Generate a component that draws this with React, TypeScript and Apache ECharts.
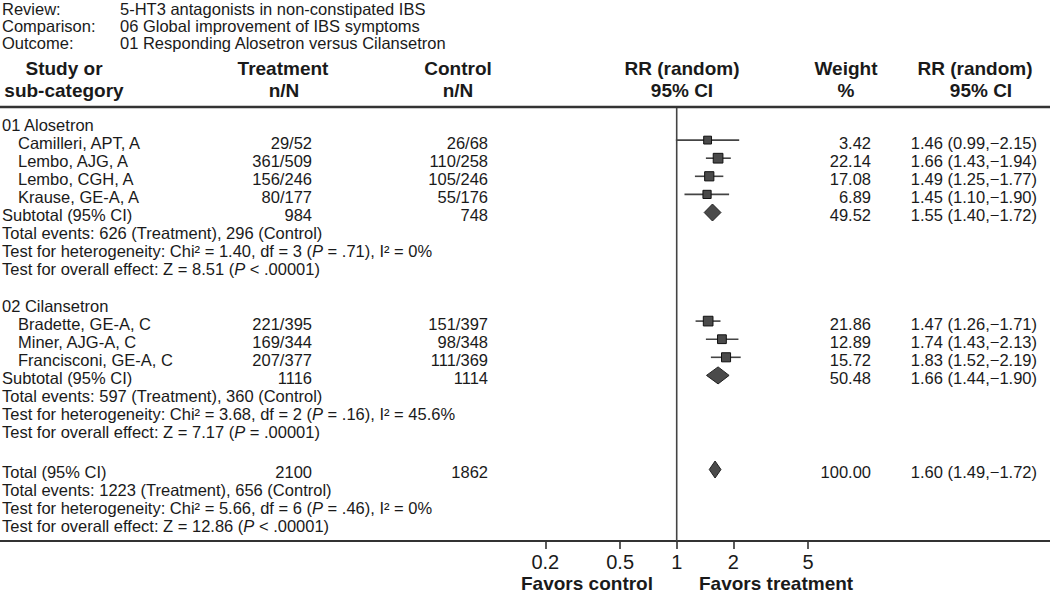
import React, { useEffect, useRef } from "react";
import * as echarts from "echarts";

// ---------- DATA ----------
const reviewTitle = "5-HT3 antagonists in non-constipated IBS";
const comparisonTitle = "06 Global improvement of IBS symptoms";
const outcomeTitle = "01 Responding Alosetron versus Cilansetron";

const group1Name = "01 Alosetron";
const group1Studies = ["Camilleri, APT, A", "Lembo, AJG, A", "Lembo, CGH, A", "Krause, GE-A, A"];
const group1TreatEvents = [29, 361, 156, 80];
const group1TreatN = [52, 509, 246, 177];
const group1CtrlEvents = [26, 110, 105, 55];
const group1CtrlN = [68, 258, 246, 176];
const group1Weight = [3.42, 22.14, 17.08, 6.89];
const group1RR = [1.46, 1.66, 1.49, 1.45];
const group1Low = [0.99, 1.43, 1.25, 1.1];
const group1High = [2.15, 1.94, 1.77, 1.9];
const group1Subtotal = { rr: 1.55, lo: 1.4, hi: 1.72, weight: 49.52 };
const group1Het = ["1.40", "3", ".71", "0%"];
const group1Overall = ["8.51", "<", ".00001"];

const group2Name = "02 Cilansetron";
const group2Studies = ["Bradette, GE-A, C", "Miner, AJG-A, C", "Francisconi, GE-A, C"];
const group2TreatEvents = [221, 169, 207];
const group2TreatN = [395, 344, 377];
const group2CtrlEvents = [151, 98, 111];
const group2CtrlN = [397, 348, 369];
const group2Weight = [21.86, 12.89, 15.72];
const group2RR = [1.47, 1.74, 1.83];
const group2Low = [1.26, 1.43, 1.52];
const group2High = [1.71, 2.13, 2.19];
const group2Subtotal = { rr: 1.66, lo: 1.44, hi: 1.9, weight: 50.48 };
const group2Het = ["3.68", "2", ".16", "45.6%"];
const group2Overall = ["7.17", "=", ".00001"];

const overall = { rr: 1.6, lo: 1.49, hi: 1.72, weight: 100.0 };
const overallHet = ["5.66", "6", ".46", "0%"];
const overallZ = ["12.86", "<", ".00001"];

const axisTicks = [0.2, 0.5, 1, 2, 5];

// ---------- LAYOUT ----------
const W = 1050;
const H = 593;
const FONT = '"Liberation Sans", Arial, Helvetica, sans-serif';
const TXT = "#1a1a1a";
const BODY = 16.5;
const ONE_X = 676.7; // pixel of RR = 1
const PX_PER_DECADE = 188;
const AXIS_Y = 541;
const ROW_TOP = 124.5;
const ROW_H = 18.1;
const MARK_OFF = -2.5;
const rowY = (r: number) => ROW_TOP + ROW_H * r;

const X_NAME = 2;
const X_STUDY = 18;
const X_TREAT = 312;
const X_CTRL = 488;
const X_WEIGHT = 871;
const X_CI = 1037;

const sum = (a: number[]) => a.reduce((s, v) => s + v, 0);
const ciText = (rr: number, lo: number, hi: number) =>
  `${rr.toFixed(2)} (${lo.toFixed(2)},\u2212${hi.toFixed(2)})`;

function txt(x: number, y: number, text: string, opt: any = {}) {
  return {
    type: "text",
    x,
    y,
    silent: true,
    style: {
      text,
      fontSize: opt.fontSize ?? BODY,
      fontFamily: FONT,
      fontWeight: opt.bold ? "bold" : "normal",
      fill: TXT,
      align: opt.align ?? "left",
      verticalAlign: "middle",
      rich: opt.rich,
    },
  };
}

const richP = {
  i: { fontStyle: "italic", fontSize: BODY, fontFamily: FONT, fill: TXT },
  n: { fontSize: BODY, fontFamily: FONT, fill: TXT },
};
const hetText = (h: string[]) =>
  `{n|Test for heterogeneity: Chi\u00B2 = ${h[0]}, df = ${h[1]} (}{i|P}{n| = ${h[2]}), I\u00B2 = ${h[3]}}`;
const zText = (z: string[]) =>
  `{n|Test for overall effect: Z = ${z[0]} (}{i|P}{n| ${z[1]} ${z[2]})}`;

function buildGraphics() {
  const g: any[] = [];
  const titles = [
    ["Review:", reviewTitle],
    ["Comparison:", comparisonTitle],
    ["Outcome:", outcomeTitle],
  ];
  titles.forEach((t, i) => {
    g.push(txt(2, 8.5 + 17 * i, t[0]));
    g.push(txt(120, 8.5 + 17 * i, t[1]));
  });
  const hb = { bold: true, fontSize: 19, align: "center" };
  g.push(txt(64, 68, "Study or", hb));
  g.push(txt(64, 90, "sub-category", hb));
  g.push(txt(283, 68, "Treatment", hb));
  g.push(txt(284, 90, "n/N", hb));
  g.push(txt(458, 68, "Control", hb));
  g.push(txt(458, 90, "n/N", hb));
  g.push(txt(682, 68, "RR (random)", hb));
  g.push(txt(682, 90, "95% CI", hb));
  g.push(txt(846, 68, "Weight", hb));
  g.push(txt(846, 90, "%", hb));
  g.push(txt(975, 68, "RR (random)", hb));
  g.push(txt(981, 90, "95% CI", hb));
  g.push({
    type: "rect",
    silent: true,
    shape: { x: 0, y: 105.8, width: W, height: 2.5 },
    style: { fill: "#333" },
  });

  const groupBlock = (
    start: number,
    name: string,
    studies: string[],
    te: number[],
    tn: number[],
    ce: number[],
    cn: number[],
    w: number[],
    rr: number[],
    lo: number[],
    hi: number[],
    sub: any,
    het: string[],
    z: string[]
  ) => {
    g.push(txt(X_NAME, rowY(start), name));
    studies.forEach((s, i) => {
      const y = rowY(start + 1 + i);
      g.push(txt(X_STUDY, y, s));
      g.push(txt(X_TREAT, y, `${te[i]}/${tn[i]}`, { align: "right" }));
      g.push(txt(X_CTRL, y, `${ce[i]}/${cn[i]}`, { align: "right" }));
      g.push(txt(X_WEIGHT, y, w[i].toFixed(2), { align: "right" }));
      g.push(txt(X_CI, y, ciText(rr[i], lo[i], hi[i]), { align: "right" }));
    });
    const ys = rowY(start + 1 + studies.length);
    g.push(txt(X_NAME, ys, "Subtotal (95% CI)"));
    g.push(txt(X_TREAT, ys, String(sum(tn)), { align: "right" }));
    g.push(txt(X_CTRL, ys, String(sum(cn)), { align: "right" }));
    g.push(txt(X_WEIGHT, ys, sub.weight.toFixed(2), { align: "right" }));
    g.push(txt(X_CI, ys, ciText(sub.rr, sub.lo, sub.hi), { align: "right" }));
    g.push(
      txt(X_NAME, rowY(start + 2 + studies.length), `Total events: ${sum(te)} (Treatment), ${sum(ce)} (Control)`)
    );
    g.push(txt(X_NAME, rowY(start + 3 + studies.length), hetText(het), { rich: richP }));
    g.push(txt(X_NAME, rowY(start + 4 + studies.length), zText(z), { rich: richP }));
  };

  groupBlock(0, group1Name, group1Studies, group1TreatEvents, group1TreatN, group1CtrlEvents, group1CtrlN,
    group1Weight, group1RR, group1Low, group1High, group1Subtotal, group1Het, group1Overall);
  groupBlock(10, group2Name, group2Studies, group2TreatEvents, group2TreatN, group2CtrlEvents, group2CtrlN,
    group2Weight, group2RR, group2Low, group2High, group2Subtotal, group2Het, group2Overall);

  const tr = 19.2;
  const yt = rowY(tr);
  g.push(txt(X_NAME, yt, "Total (95% CI)"));
  g.push(txt(X_TREAT, yt, String(sum(group1TreatN) + sum(group2TreatN)), { align: "right" }));
  g.push(txt(X_CTRL, yt, String(sum(group1CtrlN) + sum(group2CtrlN)), { align: "right" }));
  g.push(txt(X_WEIGHT, yt, overall.weight.toFixed(2), { align: "right" }));
  g.push(txt(X_CI, yt, ciText(overall.rr, overall.lo, overall.hi), { align: "right" }));
  g.push(
    txt(
      X_NAME,
      rowY(tr + 1),
      `Total events: ${sum(group1TreatEvents) + sum(group2TreatEvents)} (Treatment), ${
        sum(group1CtrlEvents) + sum(group2CtrlEvents)
      } (Control)`
    )
  );
  g.push(txt(X_NAME, rowY(tr + 2), hetText(overallHet), { rich: richP }));
  g.push(txt(X_NAME, rowY(tr + 3), zText(overallZ), { rich: richP }));

  g.push(txt(653, 583, "Favors control", { bold: true, fontSize: 19, align: "right" }));
  g.push(txt(699, 583, "Favors treatment", { bold: true, fontSize: 19, align: "left" }));
  return g;
}

// ---------- CHART ----------
export default function App() {
  const ref = useRef<HTMLDivElement>(null);
  useEffect(() => {
    if (!ref.current) return;
    const chart = echarts.init(ref.current, null, { renderer: "svg" });

    const studyData: number[][] = [];
    group1RR.forEach((v, i) =>
      studyData.push([v, group1Low[i], group1High[i], group1Weight[i], rowY(1 + i) + MARK_OFF])
    );
    group2RR.forEach((v, i) =>
      studyData.push([v, group2Low[i], group2High[i], group2Weight[i], rowY(11 + i) + MARK_OFF])
    );
    const diamondData = [
      [group1Subtotal.rr, group1Subtotal.lo, group1Subtotal.hi, rowY(5) + MARK_OFF],
      [group2Subtotal.rr, group2Subtotal.lo, group2Subtotal.hi, rowY(14) + MARK_OFF],
      [overall.rr, overall.lo, overall.hi, rowY(19.2) + MARK_OFF],
    ];

    const minX = Math.pow(10, -ONE_X / PX_PER_DECADE);
    const maxX = Math.pow(10, (W - ONE_X) / PX_PER_DECADE);

    chart.setOption({
      animation: false,
      backgroundColor: "#ffffff",
      grid: { left: 0, right: 0, top: 0, bottom: 0, containLabel: false, outerBoundsMode: "none" },
      xAxis: {
        type: "log",
        logBase: 10,
        min: minX,
        max: maxX,
        position: "bottom",
        offset: -(H - AXIS_Y),
        axisLine: { show: true, onZero: false, lineStyle: { color: "#333", width: 2 } },
        axisTick: { show: false },
        axisLabel: { show: false },
        splitLine: { show: false },
      },
      yAxis: {
        type: "value",
        min: 0,
        max: H,
        inverse: true,
        show: false,
        splitLine: { show: false },
      },
      graphic: buildGraphics(),
      series: [
        {
          type: "line",
          data: [
            [1, 108],
            [1, AXIS_Y],
          ],
          symbol: "none",
          silent: true,
          lineStyle: { color: "#444", width: 1.6 },
        },
        {
          // tick marks drawn as short segments through the log scale
          type: "lines",
          coordinateSystem: "cartesian2d",
          silent: true,
          data: axisTicks.map((v) => ({ coords: [[v, AXIS_Y], [v, AXIS_Y + 8]] })),
          lineStyle: { color: "#333", width: 1.6, opacity: 1 },
          z: 10,
        },
        {
          type: "custom",
          silent: true,
          clip: false,
          data: axisTicks.map((v) => [v, AXIS_Y]),
          encode: { x: 0, y: 1 },
          renderItem: (params: any, api: any) => {
            const v = api.value(0);
            const c = api.coord([v, api.value(1)]);
            return {
              type: "text",
              x: c[0],
              y: c[1] + 21,
              style: {
                text: String(v),
                fontSize: 20,
                fontFamily: FONT,
                fill: TXT,
                align: "center",
                verticalAlign: "middle",
              },
            };
          },
        },
        {
          type: "custom",
          silent: true,
          clip: false,
          data: studyData,
          encode: { x: [0, 1, 2], y: 4 },
          renderItem: (params: any, api: any) => {
            const y = api.value(4);
            const c = api.coord([api.value(0), y]);
            const l = api.coord([api.value(1), y]);
            const h = api.coord([api.value(2), y]);
            const s = 7.5 + 0.1 * api.value(3);
            return {
              type: "group",
              children: [
                {
                  type: "line",
                  shape: { x1: l[0], y1: l[1], x2: h[0], y2: h[1] },
                  style: { stroke: "#444", lineWidth: 1.6 },
                },
                {
                  type: "rect",
                  shape: { x: c[0] - s / 2, y: c[1] - s / 2, width: s, height: s },
                  style: { fill: "#4a4a4a", stroke: "#111", lineWidth: 1 },
                },
              ],
            };
          },
        },
        {
          type: "custom",
          silent: true,
          clip: false,
          data: diamondData,
          encode: { x: [0, 1, 2], y: 3 },
          renderItem: (params: any, api: any) => {
            const y = api.value(3);
            const c = api.coord([api.value(0), y]);
            const l = api.coord([api.value(1), y]);
            const h = api.coord([api.value(2), y]);
            const hh = 8.5;
            return {
              type: "polygon",
              shape: {
                points: [
                  [l[0], c[1]],
                  [c[0], c[1] - hh],
                  [h[0], c[1]],
                  [c[0], c[1] + hh],
                ],
              },
              style: { fill: "#4a4a4a", stroke: "#222", lineWidth: 1 },
            };
          },
        },
      ],
    });
    return () => chart.dispose();
  }, []);
  return (
    <div
      ref={ref}
      style={{ position: "absolute", left: 0, top: 0, width: W, height: H, background: "#fff" }}
    />
  );
}
